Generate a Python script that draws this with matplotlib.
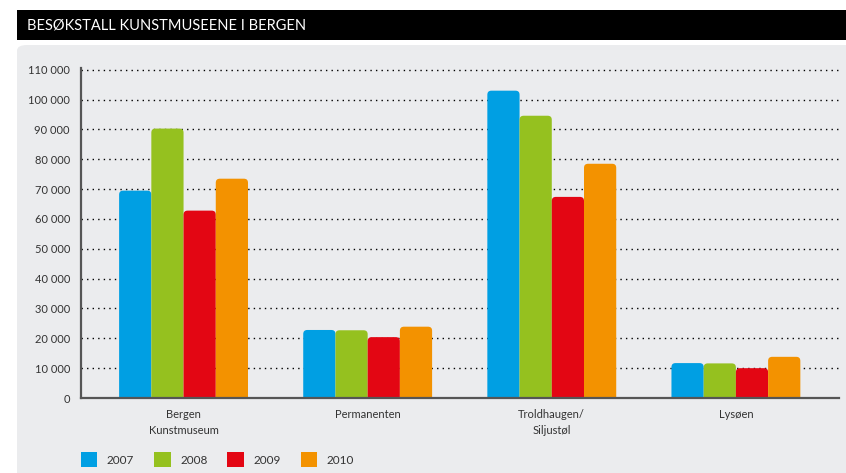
import matplotlib.pyplot as plt
from matplotlib.patches import Rectangle, FancyBboxPatch
from matplotlib.ticker import FuncFormatter
import numpy as np

# data
museums = ["Bergen\nKunstmuseum", "Permanenten", "Troldhaugen/\nSiljustøl", "Lysøen"]
years = ["2007", "2008", "2009", "2010"]
v2007 = [69500, 22800, 103000, 11700]
v2008 = [90300, 22700, 94600, 11600]
v2009 = [62800, 20400, 67400, 10000]
v2010 = [73500, 23900, 78500, 13800]
colors = ["#009fe3", "#95c11f", "#e30613", "#f39200"]

plt.rcParams['font.family'] = ['Lato', 'DejaVu Sans']

W, H = 846, 473
fig = plt.figure(figsize=(W / 100, H / 100), dpi=100)

# grey panel and black title bar
panel = FancyBboxPatch((17 / W, -0.05), 1.0, 1 - 45 / H + 0.05,
                       boxstyle="round,pad=0,rounding_size=0.012",
                       transform=fig.transFigure, facecolor="#ebecee",
                       edgecolor="none", zorder=-2)
fig.patches.append(panel)
fig.patches.append(Rectangle((17 / W, 1 - 40 / H), 1.0, 30 / H,
                             transform=fig.transFigure, facecolor="black",
                             edgecolor="none", zorder=-1))
fig.text(27 / W, 1 - 25 / H, "BESØKSTALL KUNSTMUSEENE I BERGEN", color="white",
         fontsize=10.5, va="center", ha="left")

ax = fig.add_axes([81 / W, 1 - 398 / H, 758 / W, 330 / H])
ax.set_facecolor("none")

x = np.arange(len(museums))
w = 0.175
series = [v2007, v2008, v2009, v2010]
handles = []
rx = 0.022
asp = 61000
for i, vals in enumerate(series):
    xs = x + (i - 1.5) * w
    for xi, v in zip(xs, vals):
        p = FancyBboxPatch((xi - w / 2, -4000), w, v + 4000,
                           boxstyle=f"round,pad=0,rounding_size={rx}",
                           mutation_aspect=asp, facecolor=colors[i],
                           edgecolor="none", zorder=3)
        ax.add_patch(p)
    handles.append(Rectangle((0, 0), 1, 1, facecolor=colors[i], edgecolor="none"))

ax.set_xlim(-0.557, 3.56)
ax.set_ylim(0, 110600)
ax.set_yticks(np.arange(0, 110001, 10000))
ax.yaxis.set_major_formatter(FuncFormatter(lambda v, p: f"{int(v):,}".replace(",", " ")))
ax.set_xticks(x)
ax.set_xticklabels(museums, fontsize=8, color="#333333", linespacing=1.5)
ax.tick_params(axis="both", length=0, labelsize=8, colors="#333333")
ax.tick_params(axis="x", pad=8)
ax.tick_params(axis="y", pad=8)

for gy in np.arange(10000, 110001, 10000):
    ax.axhline(gy, color="black", lw=1, ls=(0, (1, 3)), zorder=1)

for s in ["top", "right"]:
    ax.spines[s].set_visible(False)
for s in ["left", "bottom"]:
    ax.spines[s].set_color("#555555")
    ax.spines[s].set_linewidth(1.6)
    ax.spines[s].set_zorder(4)

fig.legend(handles, years, loc="lower left", bbox_to_anchor=(70 / W, 1 - 478 / H),
           ncol=4, frameon=False, fontsize=8.5, handlelength=1.4, handleheight=1.6,
           handletextpad=0.8, columnspacing=1.7, labelcolor="#333333")

fig.savefig("out.png", dpi=100)
